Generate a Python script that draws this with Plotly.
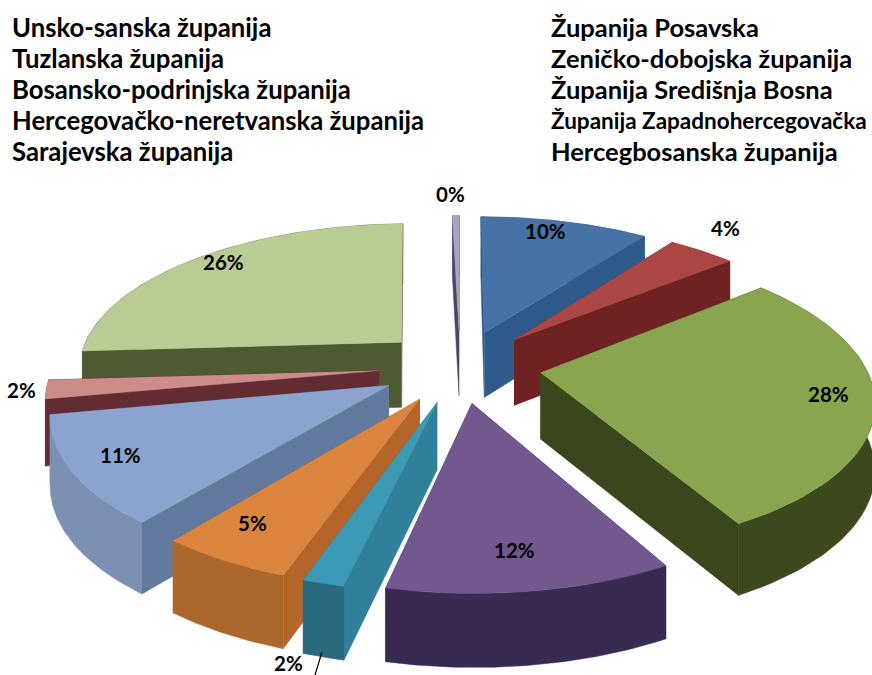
import numpy as np
import plotly.graph_objects as go

# --- data ---
left_names = ["Unsko-sanska županija", "Tuzlanska županija", "Bosansko-podrinjska županija",
              "Hercegovačko-neretvanska županija", "Sarajevska županija"]
right_names = ["Županija Posavska", "Zeničko-dobojska županija", "Županija Središnja Bosna",
               "Županija Zapadnohercegovačka", "Hercegbosanska županija"]
values = [10, 4, 28, 11.5, 1.7, 5.4, 11.4, 2, 25.6, 0.4]

# --- styles ---
top_colors = ["#4672A6", "#AA4643", "#89A54E", "#71588F", "#3C9AB5", "#DB843D", "#8AA4CF", "#CC8C8A", "#B9CC93", "#A9A3C4"]
side_colors = ["#2F5A8C", "#6E2322", "#3A461C", "#3A2A52", "#2F8098", "#B3652A", "#627A9E", "#632C33", "#4E5A32", "#4A4660"]
outer_colors = ["#2F5A8C", "#6E2322", "#3C481E", "#382A50", "#2A6A7F", "#AC682C", "#7C90B4", "#632C33", "#4E5A32", "#8F8AA8"]

# projection of the tilted pie
CX, CY, R, K, P, DEPTH, EXPLODE = 460, 366, 325, 145, 0.164, 66, 0.25


def project(X, Y, drop=0.0):
    s = 1 / (1 - P * Y)
    return CX + R * X * s, CY + K * Y * s + drop * DEPTH * np.sqrt(s)


fig = go.Figure()


def face(xs, ys, color):
    fig.add_trace(go.Scatter(x=xs, y=ys, mode="lines", fill="toself", fillcolor=color,
                             line=dict(color=color, width=0.5), hoverinfo="skip", showlegend=False))


edges = np.cumsum([0] + values) / sum(values) * 2 * np.pi
slices = []
for i, v in enumerate(values):
    a0, a1 = edges[i], edges[i + 1]
    m = (a0 + a1) / 2
    ox, oy = EXPLODE * np.sin(m), -EXPLODE * np.cos(m)
    t = np.linspace(a0, a1, 60)
    slices.append((oy + (-np.cos(m)), i, t, ox, oy))

for _, i, t, ox, oy in sorted(slices, key=lambda q: q[0]):
    ax, ay = ox + np.sin(t), oy - np.cos(t)
    walls = []
    # radial walls
    for ex, ey in ((ax[0], ay[0]), (ax[-1], ay[-1])):
        X = np.array([ox, ex, ex, ox])
        Y = np.array([oy, ey, ey, oy])
        d = np.array([0, 0, 1, 1])
        walls.append(((oy + ey) / 2, X, Y, d, side_colors[i]))
    # outer wall
    X = np.concatenate([ax, ax[::-1]])
    Y = np.concatenate([ay, ay[::-1]])
    d = np.concatenate([np.zeros(len(ax)), np.ones(len(ax))])
    walls.append((ay.mean(), X, Y, d, outer_colors[i]))
    for _, X, Y, d, c in sorted(walls, key=lambda w: w[0]):
        px, py = project(X, Y, d)
        face(px, py, c)
    px, py = project(np.concatenate([[ox], ax]), np.concatenate([[oy], ay]))
    face(px, py, top_colors[i])

# leader line of the small teal slice
fig.add_trace(go.Scatter(x=[322, 315], y=[652, 675], mode="lines", line=dict(color="#000000", width=1.2),
                         hoverinfo="skip", showlegend=False))

label_pos = [(545, 231), (725, 228), (828, 394), (514, 550), (288, 663),
             (252, 523), (120, 455), (21, 390), (223, 262), (450, 194)]
FONT = "Lato, Carlito, sans-serif"
annotations = []
for v, (x, y) in zip(values, label_pos):
    annotations.append(dict(x=x, y=y, text=f"<b>{round(v)}%</b>", showarrow=False,
                            font=dict(family=FONT, size=20.5, color="#000000"), xanchor="center", yanchor="middle"))
rows = [27, 58, 89, 120, 151]
for name, y in zip(left_names, rows):
    annotations.append(dict(x=10, y=y, text=f"<b>{name}</b>", showarrow=False, xanchor="left", yanchor="middle",
                            font=dict(family=FONT, size=25.7, color="#000000")))
for name, y in zip(right_names, rows):
    size = 22.5 if "Zapadno" in name else 25.5
    annotations.append(dict(x=549, y=y, text=f"<b>{name}</b>", showarrow=False, xanchor="left", yanchor="middle",
                            font=dict(family=FONT, size=size, color="#000000")))

fig.update_layout(
    width=872, height=675, margin=dict(l=0, r=0, t=0, b=0),
    paper_bgcolor="#FFFFFF", plot_bgcolor="#FFFFFF", showlegend=False,
    xaxis=dict(range=[0, 872], visible=False, fixedrange=True),
    yaxis=dict(range=[675, 0], visible=False, fixedrange=True),
    annotations=annotations,
)
fig.write_html("out.html", config={"displayModeBar": False},
               post_script="document.body.style.margin='0';document.body.style.overflow='hidden';")
